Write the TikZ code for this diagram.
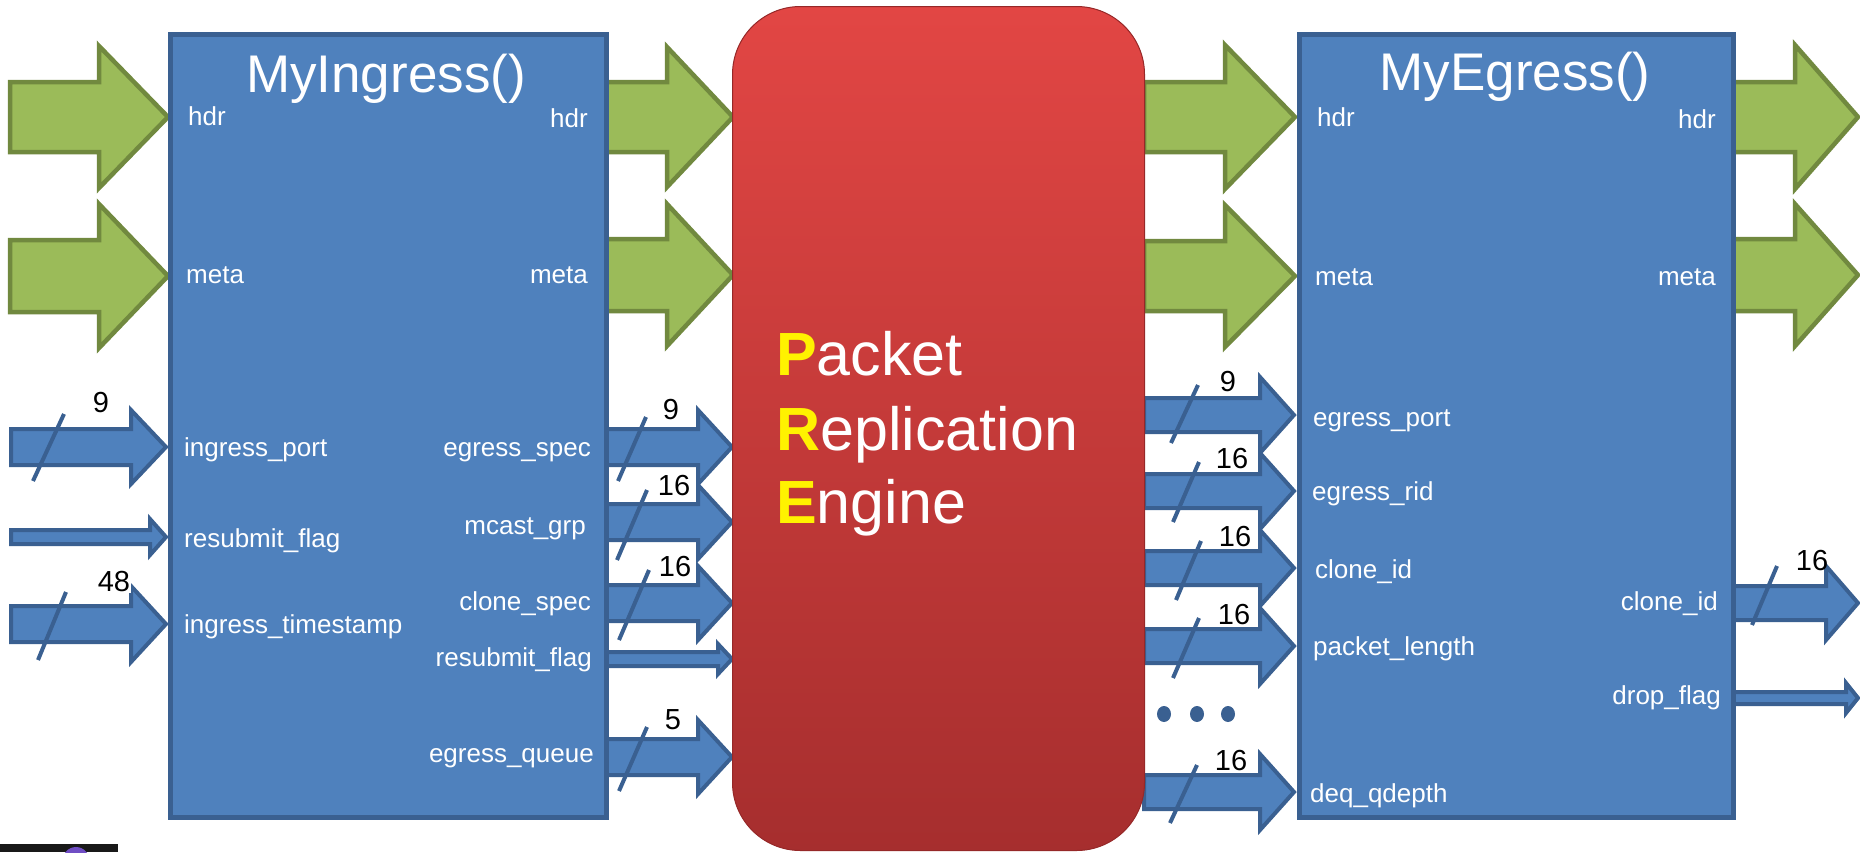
\documentclass[tikz,border=0pt]{standalone}
\usepackage{fontspec}
\setmainfont{Liberation Sans}
\definecolor{bfill}{RGB}{79,129,189}
\definecolor{bline}{RGB}{58,96,145}
\definecolor{gfill}{RGB}{155,187,89}
\definecolor{gline}{RGB}{113,137,63}
\definecolor{redtop}{RGB}{226,70,68}
\definecolor{redbot}{RGB}{166,46,46}
\definecolor{redline}{RGB}{150,40,40}
\definecolor{logopurple}{RGB}{112,78,196}
\definecolor{logoblack}{RGB}{25,25,25}
\newcommand{\blkarrow}[7][]{%
  \draw[#1] (#2,#4-#5) -- (#3-#7,#4-#5) -- (#3-#7,#4-#6) -- (#3,#4) -- (#3-#7,#4+#6) -- (#3-#7,#4+#5) -- (#2,#4+#5) -- cycle;}
\newcommand{\initial}[1]{\textcolor{yellow}{\bfseries #1}}
\begin{document}
\begin{tikzpicture}[x=1pt,y=-1pt,
  box/.style={draw=bline, line width=5pt, fill=bfill, inner sep=0pt, anchor=north west},
  garrow/.style={draw=gline, fill=gfill, line width=4.5pt, line join=miter},
  barrow/.style={draw=bline, fill=bfill, line width=4pt, line join=miter},
  slash/.style={draw=bline, line width=4pt},
  lbl/.style={text=white, font=\fontsize{26}{26}\selectfont, inner sep=0pt},
  num/.style={font=\fontsize{29}{29}\selectfont, fill=white, inner sep=1pt},
  titletext/.style={text=white, font=\fontsize{53}{53}\selectfont, inner sep=0pt, anchor=base},
  pretext/.style={text=white, font=\fontsize{61}{61}\selectfont, inner sep=0pt, anchor=base west},
]
\useasboundingbox (0,0) rectangle (1860,852);

% ---------- inputs to MyIngress ----------
\blkarrow[garrow]{10}{168}{117}{35}{71}{69}
\blkarrow[garrow]{10}{168}{276}{36}{72}{69}
\blkarrow[barrow]{11}{166}{447}{18}{37}{35}
\blkarrow[barrow]{11}{166}{537}{7}{18}{16}
\blkarrow[barrow]{11}{166}{624}{18}{38}{35}

% ---------- MyIngress -> PRE ----------
\blkarrow[garrow]{604}{733}{117}{35}{70}{66}
\blkarrow[garrow]{604}{733}{275}{36}{71}{66}
\blkarrow[barrow]{604}{732}{447}{18}{37}{34}
\blkarrow[barrow]{604}{732}{522}{18}{37}{34}
\blkarrow[barrow]{604}{732}{603}{18}{37}{34}
\blkarrow[barrow]{604}{732}{659}{7}{15}{14}
\blkarrow[barrow]{604}{732}{757}{18}{37}{34}

% ---------- PRE -> MyEgress ----------
\blkarrow[garrow]{1144}{1295}{117}{35}{72}{70}
\blkarrow[garrow]{1144}{1295}{276}{35}{71}{70}
\blkarrow[barrow]{1144}{1294}{415}{17}{38}{34}
\blkarrow[barrow]{1144}{1294}{491}{17}{38}{34}
\blkarrow[barrow]{1144}{1294}{568}{17}{38}{34}
\blkarrow[barrow]{1144}{1294}{646}{17}{38}{34}
\blkarrow[barrow]{1144}{1294}{792}{17}{38}{34}

% ---------- outputs of MyEgress ----------
\blkarrow[garrow]{1731}{1858}{117}{35}{72}{63}
\blkarrow[garrow]{1731}{1858}{275}{36}{71}{63}
\blkarrow[barrow]{1731}{1858}{603}{17}{37}{32}
\blkarrow[barrow]{1731}{1858}{698}{6}{15}{12}

% ---------- boxes ----------
\node[box, minimum width=436pt, minimum height=783pt] (ing) at (168,32) {};
\node[box, minimum width=434pt, minimum height=783pt] (eg) at (1297,32) {};
\node[draw=redline, line width=1pt, rounded corners=68pt, top color=redtop, bottom color=redbot,
      minimum width=412pt, minimum height=844pt, inner sep=0pt, anchor=north west] (pre) at (732,6) {};

% ---------- titles ----------
\node[titletext] (ingtitle) at (386,92) {MyIngress()};
\node[titletext] (egtitle) at (1515,90) {MyEgress()};

\node[pretext] (pre1) at (776,375) {\initial{P}acket};
\node[pretext] (pre2) at (776,450) {\initial{R}eplication};
\node[pretext] (pre3) at (776,523) {\initial{E}ngine};

% ---------- MyIngress labels ----------
\node[lbl, anchor=base west] (i1) at (188,125) {hdr};
\node[lbl, anchor=base west] (i2) at (186,283) {meta};
\node[lbl, anchor=base west] (i3) at (184,456) {ingress\_port};
\node[lbl, anchor=base west] (i4) at (184,547) {resubmit\_flag};
\node[lbl, anchor=base west] (i5) at (184,633) {ingress\_timestamp};
\node[lbl, anchor=base east] (o1) at (588,127) {hdr};
\node[lbl, anchor=base east] (o2) at (588,283) {meta};
\node[lbl, anchor=base east] (o3) at (591,456) {egress\_spec};
\node[lbl, anchor=base east] (o4) at (586,534) {mcast\_grp};
\node[lbl, anchor=base east] (o5) at (591,610) {clone\_spec};
\node[lbl, anchor=base east] (o6) at (592,666) {resubmit\_flag};
\node[lbl, anchor=base east] (o7) at (594,762) {egress\_queue};

% ---------- MyEgress labels ----------
\node[lbl, anchor=base west] (e1) at (1317,126) {hdr};
\node[lbl, anchor=base west] (e2) at (1315,285) {meta};
\node[lbl, anchor=base west] (e3) at (1313,426) {egress\_port};
\node[lbl, anchor=base west] (e4) at (1312,500) {egress\_rid};
\node[lbl, anchor=base west] (e5) at (1315,578) {clone\_id};
\node[lbl, anchor=base west] (e6) at (1313,655) {packet\_length};
\node[lbl, anchor=base west] (e7) at (1310,802) {deq\_qdepth};
\node[lbl, anchor=base east] (f1) at (1716,128) {hdr};
\node[lbl, anchor=base east] (f2) at (1716,285) {meta};
\node[lbl, anchor=base east] (f3) at (1718,610) {clone\_id};
\node[lbl, anchor=base east] (f4) at (1721,704) {drop\_flag};

% ---------- bus-width slashes ----------
\draw[slash] (33,481) -- (64,414);
\draw[slash] (38,660) -- (66,592);
\draw[slash] (618,481) -- (646,417);
\draw[slash] (617,560) -- (647,490);
\draw[slash] (619,640) -- (649,570);
\draw[slash] (619,791) -- (647,727);
\draw[slash] (1171,443) -- (1198,385);
\draw[slash] (1173,522) -- (1199,462);
\draw[slash] (1176,600) -- (1201,541);
\draw[slash] (1173,678) -- (1199,618);
\draw[slash] (1170,823) -- (1197,765);
\draw[slash] (1752,625) -- (1777,566);

% ---------- bus widths ----------
\node[num] (n1) at (101,403) {9};
\node[num] (n2) at (114,582) {48};
\node[num] (n3) at (671,410) {9};
\node[num] (n4) at (674,486) {16};
\node[num] (n5) at (675,567) {16};
\node[num] (n6) at (673,720) {5};
\node[num] (n7) at (1228,382) {9};
\node[num] (n8) at (1232,459) {16};
\node[num] (n9) at (1235,537) {16};
\node[num] (n10) at (1234,615) {16};
\node[num] (n11) at (1231,761) {16};
\node[num, fill=none] (n12) at (1812,561) {16};

% ---------- ellipsis ----------
\fill[bline] (1164,714) ellipse (7 and 8);
\fill[bline] (1197,714) ellipse (7 and 8);
\fill[bline] (1228,714) ellipse (7 and 8);

% ---------- cropped logo ----------
\begin{scope}
  \clip (0,844) rectangle (118,852);
  \fill[logoblack] (0,844) rectangle (118,852);
  \fill[logopurple] (76,862) ellipse (14 and 15);
\end{scope}
\end{tikzpicture}
\end{document}
